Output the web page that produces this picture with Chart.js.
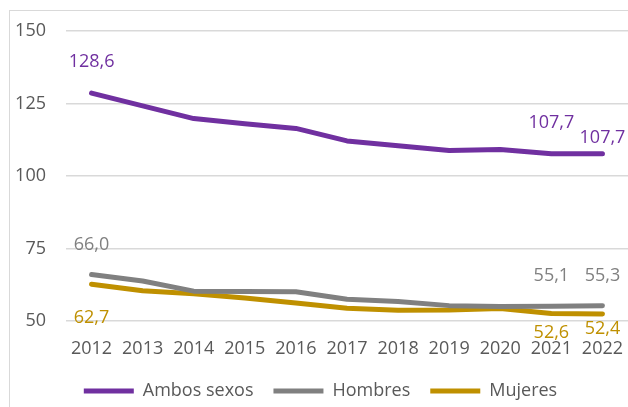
<!DOCTYPE html>
<html>
<head>
<meta charset="utf-8">
<script src="https://cdn.jsdelivr.net/npm/chart.js@4"></script>
<style>
  html, body { margin: 0; padding: 0; background: #fff; }
  body { width: 628px; height: 407px; overflow: hidden; position: relative; }
  #frame { position: absolute; left: 9px; top: 10px; width: 700px; height: 500px; border: 1px solid #d9d9d9; }
  #wrap { position: absolute; left: 0; top: 0; width: 628px; height: 407px; }
</style>
</head>
<body>
<div id="frame"></div>
<div id="wrap"><canvas id="myChart" width="628" height="407"></canvas></div>
<script>
'use strict';

let years = ['2012', '2013', '2014', '2015', '2016', '2017', '2018', '2019', '2020', '2021', '2022'];
let ambos = [128.6, 124.2, 119.8, 118.0, 116.4, 112.1, 110.4, 108.8, 109.1, 107.7, 107.7];
let hombres = [66.0, 63.8, 60.3, 60.2, 60.1, 57.5, 56.7, 55.3, 55.0, 55.1, 55.3];
let mujeres = [62.7, 60.4, 59.4, 57.9, 56.2, 54.4, 53.7, 53.8, 54.3, 52.6, 52.4];
let seriesNames = ['Ambos sexos', 'Hombres', 'Mujeres'];
let yTicks = [50, 75, 100, 125, 150];

let colors = ['#7030A0', '#808080', '#BF9000'];
let textColor = '#595959';
let fontFamily = "'Open Sans', 'Liberation Sans', sans-serif";

// which points get a value label: [dataset, index, vertical offset]
let labelSpots = [
    [0, 0, -31], [0, 9, -31], [0, 10, -16],
    [1, 0, -30], [1, 9, -30], [1, 10, -30],
    [2, 0, 34], [2, 9, 19], [2, 10, 15]
];

let valueLabels = {
    id: 'valueLabels',
    afterDatasetsDraw(chart) {
        let ctx = chart.ctx;
        ctx.save();
        ctx.font = '18px ' + fontFamily;
        ctx.textAlign = 'center';
        ctx.textBaseline = 'middle';
        for (let i = 0; i < labelSpots.length; i++) {
            let ds = labelSpots[i][0];
            let idx = labelSpots[i][1];
            let pt = chart.getDatasetMeta(ds).data[idx];
            let v = chart.data.datasets[ds].data[idx];
            ctx.fillStyle = colors[ds];
            ctx.fillText(v.toFixed(1).replace('.', ','), pt.x, pt.y + labelSpots[i][2]);
        }
        ctx.restore();
    }
};

function makeSet(i, data) {
    return {
        label: seriesNames[i],
        data: data,
        borderColor: colors[i],
        backgroundColor: colors[i],
        borderWidth: 5,
        borderCapStyle: 'round',
        borderJoinStyle: 'round',
        pointRadius: 0,
        pointStyle: 'line',
        tension: 0
    };
}

let ctx = document.getElementById('myChart').getContext('2d');
let myChart = new Chart(ctx, {
    type: 'line',
    data: {
        labels: years,
        datasets: [makeSet(0, ambos), makeSet(1, hombres), makeSet(2, mujeres)]
    },
    plugins: [valueLabels],
    options: {
        responsive: false,
        animation: false,
        layout: { padding: { left: 13, right: 0, top: 31, bottom: -3 } },
        plugins: {
            legend: {
                position: 'bottom',
                labels: {
                    usePointStyle: true,
                    pointStyleWidth: 50,
                    boxHeight: 18,
                    padding: 20,
                    color: textColor,
                    font: { family: fontFamily, size: 18 }
                }
            },
            tooltip: { enabled: false }
        },
        scales: {
            x: {
                offset: true,
                grid: { display: true, drawOnChartArea: false, drawTicks: true, tickLength: 15, color: 'rgba(0,0,0,0)' },
                border: { display: false },
                ticks: {
                    color: textColor,
                    padding: 4,
                    maxRotation: 0,
                    font: { family: fontFamily, size: 18, lineHeight: 1 }
                }
            },
            y: {
                min: 50,
                max: 150,
                afterBuildTicks: function (axis) {
                    axis.ticks = yTicks.map(function (v) { return { value: v }; });
                },
                afterFit: function (axis) {
                    axis.width = 53;
                },
                grid: { color: '#d9d9d9', lineWidth: 1.5, drawTicks: false },
                border: { display: false },
                ticks: {
                    color: textColor,
                    padding: 20,
                    font: { family: fontFamily, size: 18 }
                }
            }
        }
    }
});
</script>
</body>
</html>
